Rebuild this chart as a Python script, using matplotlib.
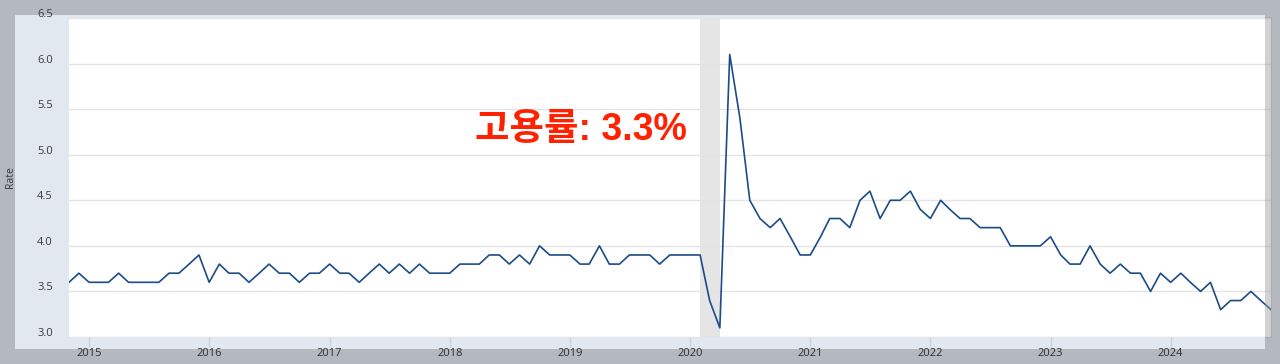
import numpy as np
import pandas as pd
import matplotlib.pyplot as plt
import matplotlib.dates as mdates
import matplotlib.transforms as mtransforms
from matplotlib.patches import Rectangle

# monthly rate, Nov 2014 - Nov 2024
dates = pd.date_range('2014-11-01', '2024-11-01', freq='MS')
rate = [
    3.6, 3.7,
    3.6, 3.6, 3.6, 3.7, 3.6, 3.6, 3.6, 3.6, 3.7, 3.7, 3.8, 3.9,  # 2015
    3.6, 3.8, 3.7, 3.7, 3.6, 3.7, 3.8, 3.7, 3.7, 3.6, 3.7, 3.7,  # 2016
    3.8, 3.7, 3.7, 3.6, 3.7, 3.8, 3.7, 3.8, 3.7, 3.8, 3.7, 3.7,  # 2017
    3.7, 3.8, 3.8, 3.8, 3.9, 3.9, 3.8, 3.9, 3.8, 4.0, 3.9, 3.9,  # 2018
    3.9, 3.8, 3.8, 4.0, 3.8, 3.8, 3.9, 3.9, 3.9, 3.8, 3.9, 3.9,  # 2019
    3.9, 3.9, 3.4, 3.1, 6.1, 5.4, 4.5, 4.3, 4.2, 4.3, 4.1, 3.9,  # 2020
    3.9, 4.1, 4.3, 4.3, 4.2, 4.5, 4.6, 4.3, 4.5, 4.5, 4.6, 4.4,  # 2021
    4.3, 4.5, 4.4, 4.3, 4.3, 4.2, 4.2, 4.2, 4.0, 4.0, 4.0, 4.0,  # 2022
    4.1, 3.9, 3.8, 3.8, 4.0, 3.8, 3.7, 3.8, 3.7, 3.7, 3.5, 3.7,  # 2023
    3.6, 3.7, 3.6, 3.5, 3.6, 3.3, 3.4, 3.4, 3.5, 3.4, 3.3,       # 2024
]
recession = ('2020-02-01', '2020-04-01')
years = list(range(2015, 2025))
yticks = [3.0, 3.5, 4.0, 4.5, 5.0, 5.5, 6.0, 6.5]
note = '고용률: 3.3%'

W, H = 1280, 364
fig = plt.figure(figsize=(W / 100, H / 100), dpi=100)
fig.patch.set_facecolor('#b4b8bf')

# light panel behind the chart
fig.patches.append(Rectangle((15 / W, 1 - 349 / H), 1250 / W, 334 / H,
                             transform=fig.transFigure, facecolor='#e1e8f0',
                             edgecolor='none', zorder=-1))

ax = fig.add_axes([69 / W, 1 - 337 / H, 1202 / W, 319 / H])
ax.set_facecolor('white')
for s in ax.spines.values():
    s.set_visible(False)

ax.axvspan(pd.Timestamp(recession[0]), pd.Timestamp(recession[1]),
           color='#e5e5e5', lw=0, zorder=1)
ax.plot(dates, rate, color='#1b4c88', lw=1.2, zorder=3)

ax.set_xlim(dates[0], dates[-1])
ax.set_ylim(3.0, 6.5)
ax.set_yticks(yticks)
ax.set_yticklabels([f'{v:.1f}' for v in yticks])
ax.grid(axis='y', color='#e4e4e4', lw=1, zorder=0)
ax.tick_params(axis='y', length=0, pad=11.5, labelsize=8, labelcolor='#3a3a3a')
off = mtransforms.ScaledTranslation(0, 5 / 100, fig.dpi_scale_trans)
for lab in ax.get_yticklabels():
    lab.set_transform(lab.get_transform() + off)
    lab.set_fontfamily('Open Sans')

ax.set_xticks([pd.Timestamp(f'{y}-01-01') for y in years])
ax.xaxis.set_major_formatter(mdates.DateFormatter('%Y'))
ax.tick_params(axis='x', length=7.5, width=1, color='#c9d3e6', pad=0.5,
               labelsize=8, labelcolor='#2e2e2e')
for lab in ax.get_xticklabels():
    lab.set_fontfamily('Open Sans')

ax.set_ylabel('Rate', fontsize=7.5, color='#3a3a3a', family='Open Sans')
ax.yaxis.set_label_coords(-0.0443, 0.5)

ax.text(0.338, 0.648, note, transform=ax.transAxes, ha='left', va='center',
        fontsize=27, fontweight='bold', color='#ff2200',
        family=['Liberation Sans', 'Noto Sans CJK KR'], zorder=4)

# grey strip at the right edge
fig.patches.append(Rectangle((1265 / W, 1 - 338 / H), 7 / W, 321 / H,
                             transform=fig.transFigure, facecolor='#9a9a9a',
                             alpha=0.45, edgecolor='none', zorder=5))

fig.savefig('out.png', dpi=100, facecolor=fig.get_facecolor())
